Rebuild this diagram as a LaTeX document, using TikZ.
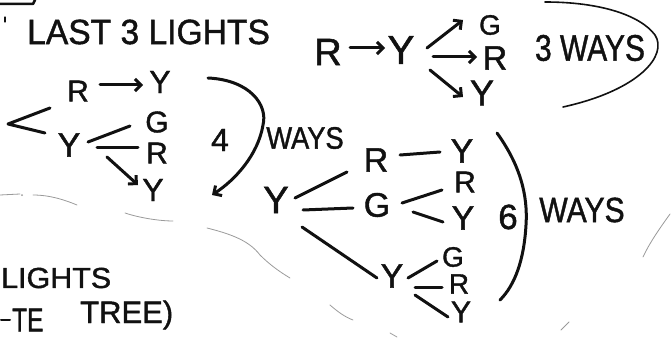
\documentclass[tikz,border=0pt]{standalone}
\usepackage{fontspec}
\setmainfont{Liberation Sans}[FakeBold=1.3]
\usetikzlibrary{arrows.meta}
\definecolor{ink}{HTML}{111111}
\definecolor{faint}{HTML}{9A9A9A}
% text squeezed or widened horizontally
\newcommand\squeezed[2]{\scalebox{#1}[1]{#2}}
\begin{document}
\begin{tikzpicture}[x=1pt,y=-1pt,
  ink/.style={draw=ink, line width=3pt, line cap=round, line join=round},
  thinink/.style={draw=ink, line width=1.6pt, line cap=round},
  faintline/.style={draw=faint, line width=0.8pt, line cap=round},
  tip/.style={-{Straight Barb[length=6pt,width=12pt]}},
  lbl/.style={inner sep=0pt, text=ink, font=\fontsize{#1}{#1}\selectfont},
  lbl/.default=32,
]
\useasboundingbox (0,0) rectangle (671,339);
\clip (0,0) rectangle (671,339);

% corner of a box and a small tick
\draw[ink, line width=2.5pt] (0,4) -- (33,4) -- (35,0);
\draw[ink, line width=1.2pt] (5,17) -- (5,22);

% heading
\node[lbl=35, anchor=west] (title) at (27,32) {\squeezed{0.96}{LAST 3 LIGHTS}};

% ---------- left tree ----------
\node[lbl=30] (rA) at (78,91) {R};
\node[lbl=32] (yA) at (160,82) {Y};
\node[lbl=34] (Y2) at (69,145) {Y};
\node[lbl=30] (G2) at (157,122) {G};
\node[lbl=30] (R2) at (157,153) {R};
\node[lbl=32] (Y3) at (153,190) {Y};
\coordinate (fork) at (8,124);

\draw[ink] ([shift={(-28,17)}]rA.center) -- (fork) -- ([shift={(-24,-12)}]Y2.center);
\draw[ink, tip] ([shift={(22,-6)}]rA.center) -- ([shift={(-17,3)}]yA.center);
\draw[ink] ([shift={(19,-3)}]Y2.center) -- ([shift={(-27,4)}]G2.center);
\draw[ink] ([shift={(28,3)}]Y2.center) -- ([shift={(-19,-5)}]R2.center);
\draw[ink, tip] ([shift={(38,12)}]Y2.center) -- ([shift={(-15,-5)}]Y3.center);

\node[lbl=32] (four) at (220,140) {4};
\draw[ink, tip] (208,78) .. controls (250,80) and (268,105) .. (263,125)
                .. controls (258,155) and (235,180) .. (212,195);
\node[lbl=31] (ways1) at (305,138) {\squeezed{0.88}{WAYS}};

% ---------- top right ----------
\node[lbl=38] (rB) at (328,52) {R};
\node[lbl=40] (yB) at (401,50) {Y};
\node[lbl=28] (gB) at (490,25) {G};
\node[lbl=34] (rC) at (495,58) {R};
\node[lbl=36] (yC) at (482,93) {Y};

\draw[ink, tip] ([shift={(22,-4)}]rB.center) -- ([shift={(-16,-2)}]yB.center);
\draw[ink, tip] ([shift={(26,-2)}]yB.center) -- ([shift={(-27,-5)}]gB.center);
\draw[ink, tip] ([shift={(32,7)}]yB.center) -- ([shift={(-18,-1)}]rC.center);
\draw[ink, tip] ([shift={(29,20)}]yB.center) -- ([shift={(-19,4)}]yC.center);

\node[lbl=37] (ways3) at (590,48) {\squeezed{0.81}{3 WAYS}};
\draw[thinink] (545,2) .. controls (600,2) and (640,15) .. (655,35)
               .. controls (668,55) and (640,90) .. (563,107);

% ---------- big tree ----------
\node[lbl=38] (Y4) at (276,200) {Y};
\node[lbl=34] (R3) at (376,160) {R};
\node[lbl=34] (G3) at (377,205) {G};
\node[lbl=34] (Y5) at (392,276) {Y};
\node[lbl=34] (Y6) at (462,151) {Y};
\node[lbl=30] (R4) at (465,182) {R};
\node[lbl=34] (Y7) at (463,218) {Y};
\node[lbl=28] (G5) at (453,257) {G};
\node[lbl=28] (R5) at (459,284) {R};
\node[lbl=30] (Y8) at (461,312) {Y};

\draw[ink] ([shift={(19,-2)}]Y4.center) -- ([shift={(-29,12)}]R3.center);
\draw[ink] ([shift={(27,10)}]Y4.center) -- ([shift={(-24,3)}]G3.center);
\draw[ink] ([shift={(26,27)}]Y4.center) -- ([shift={(-15,2)}]Y5.center);
\draw[ink] ([shift={(24,-5)}]R3.center) -- ([shift={(-22,1)}]Y6.center);
\draw[ink] ([shift={(25,-2)}]G3.center) -- ([shift={(-23,8)}]R4.center);
\draw[ink] ([shift={(36,7)}]G3.center) -- ([shift={(-20,4)}]Y7.center);
\draw[ink] ([shift={(16,2)}]Y5.center) -- ([shift={(-16,4)}]G5.center);
\draw[ink] ([shift={(23,11)}]Y5.center) -- ([shift={(-17,3)}]R5.center);
\draw[ink] ([shift={(23,19)}]Y5.center) -- ([shift={(-13,5)}]Y8.center);

\node[lbl=35] (six) at (508,217) {6};
\draw[ink] (497,133) .. controls (520,165) and (528,195) .. (526,225)
           .. controls (524,260) and (515,285) .. (500,300);
\node[lbl=35] (ways2) at (582,210) {\squeezed{0.86}{WAYS}};

% ---------- bottom left ----------
\node[lbl=29, anchor=west] (lights) at (1,278) {\squeezed{1.05}{LIGHTS}};
\draw[ink, line width=2pt] (1,320) -- (10,320);
\node[lbl=33, anchor=west] (te) at (12,320) {\squeezed{0.74}{TE}};
\node[lbl=31, anchor=west] (tree) at (80,315) {TREE)};

% faint pencil marks
\draw[faintline] (0,195) -- (20,194);
\fill[faint] (22,195) circle (1);
\draw[faintline] (33,195) .. controls (50,195) and (65,200) .. (77,205);
\draw[faintline] (125,213) .. controls (140,218) and (160,221) .. (173,221);
\draw[faintline] (207,228) .. controls (235,235) and (250,242) .. (260,255)
                 .. controls (270,265) and (280,272) .. (290,278);
\draw[faintline] (330,305) .. controls (338,312) and (345,317) .. (353,320);
\draw[faintline] (390,333) -- (397,337);
\draw[faintline] (670,214) .. controls (660,228) and (650,242) .. (643,257);
\draw[faintline] (561,330) -- (569,322);
\end{tikzpicture}
\end{document}
